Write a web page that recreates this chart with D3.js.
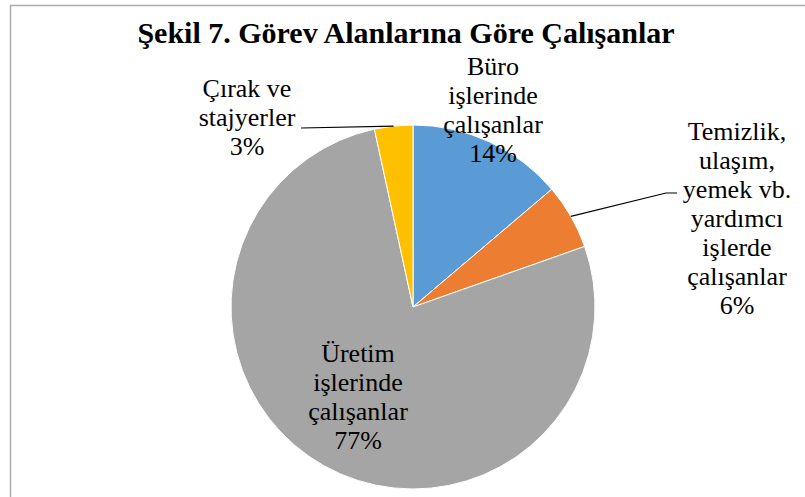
<!DOCTYPE html>
<html>
<head>
<meta charset="utf-8">
<script src="https://cdn.jsdelivr.net/npm/d3@7"></script>
<style>
  html, body { margin: 0; padding: 0; background: #fff; }
</style>
</head>
<body>
<div id="chart"></div>
<script>
// data
var categories = ['Büro işlerinde çalışanlar',
                  'Temizlik, ulaşım, yemek vb. yardımcı işlerde çalışanlar',
                  'Üretim işlerinde çalışanlar',
                  'Çırak ve stajyerler'];
var values = [13.8, 5.8, 77.0, 3.4];
var pctLabels = ['14%', '6%', '77%', '3%'];
var labelLines = [
  ['Büro', 'işlerinde', 'çalışanlar'],
  ['Temizlik,', 'ulaşım,', 'yemek vb.', 'yardımcı', 'işlerde', 'çalışanlar'],
  ['Üretim', 'işlerinde', 'çalışanlar'],
  ['Çırak ve', 'stajyerler']
];
var colors = ['#5B9BD5', '#ED7D31', '#A5A5A5', '#FFC000'];
var title = 'Şekil 7. Görev Alanlarına Göre Çalışanlar';

// layout
var W = 805, H = 497,
    cx = 413, cy = 307, r = 182,
    lineH = 29,
    font = '"Liberation Serif", "Times New Roman", serif',
    // label anchor (center x, first baseline) + leader elbow, by slice
    labelPos = [
      { x: 493, y: 75 },
      { x: 737, y: 140, leader: [[677, 193], [666, 193]] },
      { x: 358, y: 362 },
      { x: 247, y: 96.5, leader: [[301, 128]] }
    ];

var svg = d3.select('#chart').append('svg')
    .attr('width', W)
    .attr('height', H);

// chart area border
svg.append('rect')
  .attr('x', 10.5).attr('y', 5.5)
  .attr('width', 810).attr('height', 510)
  .attr('fill', '#fff')
  .attr('stroke', '#ababab')
  .attr('stroke-width', 1.5);

svg.append('text')
  .attr('x', 406).attr('y', 43)
  .attr('text-anchor', 'middle')
  .attr('font-family', font)
  .attr('font-size', 30)
  .attr('font-weight', 'bold')
  .text(title);

var pie = d3.pie().sort(null).value(function(d) { return d; }),
    arcs = pie(values),
    arc = d3.arc().innerRadius(0).outerRadius(r),
    edge = d3.arc().innerRadius(r).outerRadius(r);

var g = svg.append('g').attr('transform', 'translate(' + cx + ',' + cy + ')');

g.selectAll('path.slice')
  .data(arcs)
  .enter().append('path')
  .attr('class', 'slice')
  .attr('d', arc)
  .attr('fill', function(d, i) { return colors[i]; })
  .attr('stroke', '#fff')
  .attr('stroke-width', 1);

// leader lines
arcs.forEach(function(d, i) {
  var lp = labelPos[i];
  if (!lp.leader) return;
  var c = edge.centroid(d),
      pts = lp.leader.concat([[cx + c[0], cy + c[1]]]);
  svg.append('path')
    .attr('d', d3.line()(pts))
    .attr('fill', 'none')
    .attr('stroke', '#000')
    .attr('stroke-width', 1.2);
});

// labels
arcs.forEach(function(d, i) {
  var lp = labelPos[i],
      lines = labelLines[i].concat([pctLabels[i]]);
  var t = svg.append('text')
    .attr('text-anchor', 'middle')
    .attr('font-family', font)
    .attr('font-size', 26);
  lines.forEach(function(s, k) {
    t.append('tspan')
      .attr('x', lp.x)
      .attr('y', lp.y + k * lineH)
      .text(s);
  });
});
</script>
</body>
</html>
